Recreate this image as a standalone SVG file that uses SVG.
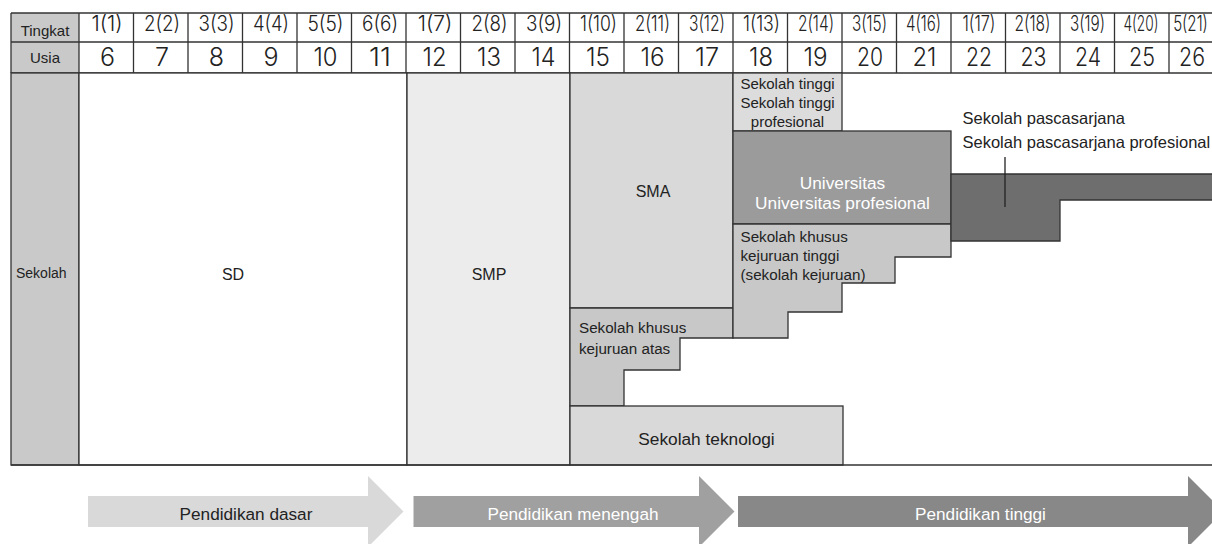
<svg xmlns="http://www.w3.org/2000/svg" width="1212" height="544" viewBox="0 0 1212 544">
<style>
  .ln{stroke:#333;stroke-width:1.3;fill:none}
  .bx{stroke:#333;stroke-width:1.3}
  .t{font-family:"Liberation Sans",Arial,sans-serif;fill:#222}
  .w{fill:#fff}
  .h1{font-family:Inter,"Liberation Sans",Arial,sans-serif;font-weight:300;font-size:21px;fill:#222;text-anchor:middle}
  .h2{font-family:Inter,"Liberation Sans",Arial,sans-serif;font-weight:300;font-size:25px;fill:#222;text-anchor:middle}
  .mid{text-anchor:middle}
</style>
<rect width="1212" height="544" fill="#fff"/>
<g id="header">
  <rect x="11" y="13" width="68" height="29" fill="#c9c9c9"/>
  <rect x="11" y="42" width="68" height="31" fill="#c9c9c9"/>
  <line class="ln" x1="11" y1="13" x2="1212" y2="13"/>
  <line class="ln" x1="11" y1="42" x2="1212" y2="42"/>
  <line class="ln" x1="11" y1="73" x2="1212" y2="73"/>
  <path class="ln" d="M11 13V73M79 13V73M133.5 13V73M188 13V73M242.5 13V73M297 13V73M351.5 13V73M406 13V73M460.5 13V73M515 13V73M569.5 13V73M624 13V73M678.5 13V73M733 13V73M787.5 13V73M842 13V73M896.5 13V73M951 13V73M1005.5 13V73M1060 13V73M1114.5 13V73M1169 13V73"/>
  <text class="t mid" x="45" y="36" font-size="15">Tingkat</text>
  <text class="t mid" x="45" y="63" font-size="15">Usia</text>
  <text class="h1" x="107" y="31">1(1)</text>
  <text class="h1" x="162" y="31" textLength="36" lengthAdjust="spacingAndGlyphs">2(2)</text>
  <text class="h1" x="216.5" y="31" textLength="36" lengthAdjust="spacingAndGlyphs">3(3)</text>
  <text class="h1" x="271" y="31" textLength="36" lengthAdjust="spacingAndGlyphs">4(4)</text>
  <text class="h1" x="325.5" y="31" textLength="36" lengthAdjust="spacingAndGlyphs">5(5)</text>
  <text class="h1" x="380" y="31" textLength="36" lengthAdjust="spacingAndGlyphs">6(6)</text>
  <text class="h1" x="435" y="31">1(7)</text>
  <text class="h1" x="489.5" y="31" textLength="36" lengthAdjust="spacingAndGlyphs">2(8)</text>
  <text class="h1" x="544" y="31" textLength="36" lengthAdjust="spacingAndGlyphs">3(9)</text>
  <text class="h1" x="598.5" y="31" textLength="37" lengthAdjust="spacingAndGlyphs">1(10)</text>
  <text class="h1" x="652.5" y="31" textLength="35" lengthAdjust="spacingAndGlyphs">2(11)</text>
  <text class="h1" x="707" y="31" textLength="36" lengthAdjust="spacingAndGlyphs">3(12)</text>
  <text class="h1" x="761.5" y="31" textLength="37" lengthAdjust="spacingAndGlyphs">1(13)</text>
  <text class="h1" x="816" y="31" textLength="36" lengthAdjust="spacingAndGlyphs">2(14)</text>
  <text class="h1" x="869.5" y="31" textLength="35" lengthAdjust="spacingAndGlyphs">3(15)</text>
  <text class="h1" x="923.5" y="31" textLength="35" lengthAdjust="spacingAndGlyphs">4(16)</text>
  <text class="h1" x="979" y="31" textLength="33" lengthAdjust="spacingAndGlyphs">1(17)</text>
  <text class="h1" x="1032.5" y="31" textLength="36" lengthAdjust="spacingAndGlyphs">2(18)</text>
  <text class="h1" x="1087.5" y="31" textLength="35" lengthAdjust="spacingAndGlyphs">3(19)</text>
  <text class="h1" x="1141" y="31" textLength="35" lengthAdjust="spacingAndGlyphs">4(20)</text>
  <text class="h1" x="0" y="0" transform="translate(1190.5,31) scale(0.72,1)">5(21)</text>
  <text class="h2" x="107.5" y="66">6</text>
  <text class="h2" x="162" y="66">7</text>
  <text class="h2" x="216.5" y="66">8</text>
  <text class="h2" x="271" y="66">9</text>
  <text class="h2" x="325.5" y="66" textLength="24" lengthAdjust="spacingAndGlyphs">10</text>
  <text class="h2" x="380" y="66" textLength="22" lengthAdjust="spacingAndGlyphs">11</text>
  <text class="h2" x="434.5" y="66" textLength="24" lengthAdjust="spacingAndGlyphs">12</text>
  <text class="h2" x="489" y="66" textLength="24" lengthAdjust="spacingAndGlyphs">13</text>
  <text class="h2" x="543.5" y="66" textLength="24" lengthAdjust="spacingAndGlyphs">14</text>
  <text class="h2" x="598" y="66" textLength="24" lengthAdjust="spacingAndGlyphs">15</text>
  <text class="h2" x="652.5" y="66" textLength="24" lengthAdjust="spacingAndGlyphs">16</text>
  <text class="h2" x="707" y="66" textLength="24" lengthAdjust="spacingAndGlyphs">17</text>
  <text class="h2" x="761" y="66" textLength="24" lengthAdjust="spacingAndGlyphs">18</text>
  <text class="h2" x="815.5" y="66" textLength="24" lengthAdjust="spacingAndGlyphs">19</text>
  <text class="h2" x="870" y="66" textLength="26" lengthAdjust="spacingAndGlyphs">20</text>
  <text class="h2" x="924.5" y="66" textLength="24" lengthAdjust="spacingAndGlyphs">21</text>
  <text class="h2" x="979" y="66" textLength="26" lengthAdjust="spacingAndGlyphs">22</text>
  <text class="h2" x="1033.5" y="66" textLength="26" lengthAdjust="spacingAndGlyphs">23</text>
  <text class="h2" x="1088" y="66" textLength="26" lengthAdjust="spacingAndGlyphs">24</text>
  <text class="h2" x="1142" y="66" textLength="26" lengthAdjust="spacingAndGlyphs">25</text>
  <text class="h2" x="1192" y="66" textLength="26" lengthAdjust="spacingAndGlyphs">26</text>
</g>
<g id="sekolah-col">
  <rect class="bx" x="11" y="73" width="68" height="392" fill="#c9c9c9"/>
  <text class="t" x="16" y="278" font-size="14">Sekolah</text>
</g>
<g id="sd">
  <rect class="bx" x="79" y="73" width="328" height="392" fill="#fff"/>
  <text class="t mid" x="233" y="280" font-size="16">SD</text>
</g>
<g id="smp">
  <rect class="bx" x="407" y="73" width="163" height="392" fill="#ececec"/>
  <text class="t mid" x="489" y="280" font-size="16">SMP</text>
</g>
<g id="sma">
  <rect class="bx" x="570" y="73" width="163" height="235" fill="#d9d9d9"/>
  <text class="t mid" x="653" y="197" font-size="16">SMA</text>
</g>
<g id="sekolah-khusus-atas">
  <polygon class="bx" points="570,308 733,308 733,338 680,338 680,370 624,370 624,406 570,406" fill="#c8c8c8"/>
  <text class="t" x="579" y="333" font-size="15.2">Sekolah khusus</text>
  <text class="t" x="579" y="353.5" font-size="15.2">kejuruan atas</text>
</g>
<g id="sekolah-teknologi">
  <rect class="bx" x="570" y="406" width="273" height="59" fill="#d9d9d9"/>
  <text class="t mid" x="706.5" y="445" font-size="17.3">Sekolah teknologi</text>
</g>
<g id="sekolah-tinggi">
  <rect class="bx" x="733" y="73" width="109" height="58" fill="#dcdcdc"/>
  <text class="t mid" x="787.5" y="89" font-size="15">Sekolah tinggi</text>
  <text class="t mid" x="787.5" y="107.5" font-size="15">Sekolah tinggi</text>
  <text class="t mid" x="787.5" y="126.5" font-size="15">profesional</text>
</g>
<g id="universitas">
  <rect class="bx" x="733" y="131" width="218" height="93" fill="#9b9b9b"/>
  <text class="t w mid" x="842.5" y="188.5" font-size="17.3">Universitas</text>
  <text class="t w mid" x="842.5" y="209" font-size="17.3">Universitas profesional</text>
</g>
<g id="sekolah-khusus-tinggi">
  <polygon class="bx" points="733,224 951,224 951,257 895,257 895,283 842,283 842,312 788,312 788,338 733,338" fill="#c8c8c8"/>
  <text class="t" x="740.5" y="241.7" font-size="15.2">Sekolah khusus</text>
  <text class="t" x="740.5" y="260.5" font-size="15.2">kejuruan tinggi</text>
  <text class="t" x="740.5" y="280" font-size="15.2">(sekolah kejuruan)</text>
</g>
<g id="pascasarjana">
  <polygon class="bx" points="951,174 1214,174 1214,200 1060,200 1060,241 951,241" fill="#6e6e6e"/>
  <text class="t" x="962.5" y="123.5" font-size="16.5">Sekolah pascasarjana</text>
  <text class="t" x="962.5" y="148" font-size="16.5">Sekolah pascasarjana profesional</text>
</g>
<g id="connectors">
  <line x1="1005" y1="157" x2="1005" y2="207" stroke="#222" stroke-width="1.3"/>
</g>
<g id="bottom-line">
  <line class="ln" x1="11" y1="465" x2="1212" y2="465"/>
</g>
<g id="arrow-dasar">
  <polygon points="88,496 368,496 368,476 403.5,511.5 368,547 368,527 88,527" fill="#d9d9d9"/>
  <text class="t mid" x="246" y="520" font-size="17.2">Pendidikan dasar</text>
</g>
<g id="arrow-menengah">
  <polygon points="413.5,496 699,496 699,476 734.5,511.5 699,547 699,527 413.5,527" fill="#a0a0a0"/>
  <text class="t w mid" x="573" y="520" font-size="17.2">Pendidikan menengah</text>
</g>
<g id="arrow-tinggi">
  <polygon points="738,496 1188,496 1188,476 1223.5,511.5 1188,547 1188,527 738,527" fill="#888888"/>
  <text class="t w mid" x="980.5" y="520" font-size="17.2">Pendidikan tinggi</text>
</g>
</svg>
